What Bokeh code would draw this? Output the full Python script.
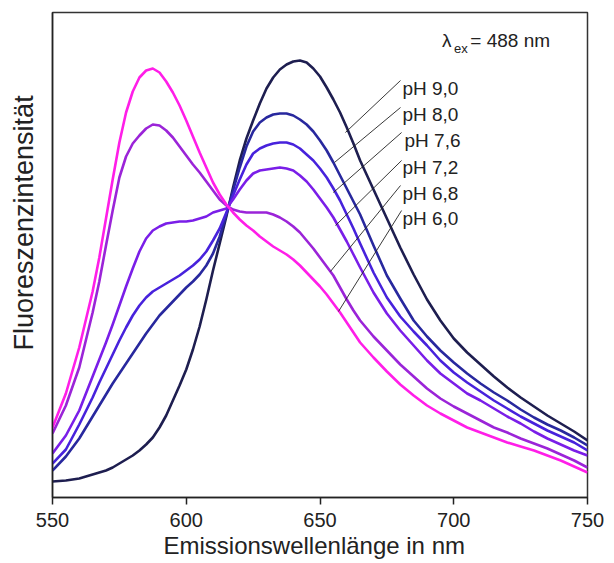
from bokeh.plotting import figure
from bokeh.models import Range1d, FixedTicker, Title
from bokeh.core.properties import value
from bokeh.embed import file_html
from bokeh.resources import INLINE

# ---- data (arbitrary intensity units) ----
wavelength = [550, 555, 560,
              565, 567.5, 570, 572.5, 575, 577.5, 580, 582.5, 585, 587.5,
              590, 592.5, 595, 597.5, 600, 602.5, 605, 607.5, 610, 612.5,
              615, 617.5, 620, 622.5, 625, 627.5, 630, 632.5, 635, 637.5,
              640, 642.5, 645, 647.5, 650, 652.5, 655, 657.5, 660, 662.5, 665,
              670, 675, 680, 685, 690, 695, 700, 705, 710, 715, 720,
              725, 730, 735, 740, 745, 750]

ph_labels = ["pH 9,0", "pH 8,0", "pH 7,6", "pH 7,2", "pH 6,8", "pH 6,0"]

ph90 = [16, 17, 19,
        23, 25, 27, 30, 34, 38, 42, 47, 53, 60,
        70, 82, 97, 112, 128, 148, 171, 198, 227, 254,
        281, 310, 337, 359, 377, 394, 409, 420, 428, 433,
        436, 437, 435, 429, 421, 410, 398, 385, 370, 354, 337,
        308, 279, 250, 223, 198, 177, 159, 145, 133, 121, 110,
        100, 91, 82, 74, 66, 57]
ph80 = [27, 41, 59,
        81, 92, 103, 114, 124, 134, 144, 154, 164, 173,
        182, 189, 196, 203, 210, 216, 223, 232, 244, 261,
        283, 307, 330, 351, 366, 375, 380, 383, 384, 384,
        382, 378, 373, 366, 357, 347, 335, 322, 309, 296, 283,
        252, 222, 199, 177, 161, 147, 135, 124, 114, 105, 97,
        88, 80, 73, 67, 60, 52]
ph76 = [34, 48, 73,
        100, 115, 129, 143, 157, 170, 182, 192, 200, 206,
        210, 214, 218, 222, 227, 232, 238, 246, 257, 269,
        285, 302, 318, 333, 344, 349, 352, 354, 355, 355,
        353, 349, 343, 337, 329, 320, 309, 297, 283, 269, 254,
        225, 200, 181, 166, 152, 137, 125, 115, 106, 97, 89,
        81, 74, 67, 61, 55, 47]
ph72 = [44, 62, 87,
        121, 138, 155, 173, 192, 211, 229, 246, 259, 267,
        271, 274, 275, 276, 276, 277, 279, 281, 285, 287,
        289, 298, 308, 317, 324, 327, 328, 329, 330, 329,
        327, 322, 316, 308, 299, 290, 280, 268, 256, 243, 230,
        205, 184, 167, 152, 137, 124, 114, 104, 97, 89, 81,
        74, 66, 59, 53, 47, 42]
ph68 = [64, 92, 130,
        185, 216, 252, 287, 320, 341, 354, 362, 369, 373,
        372, 367, 360, 351, 342, 333, 325, 316, 307, 298,
        292, 288, 286, 285, 285, 285, 285, 283, 280, 276,
        271, 265, 257, 249, 240, 231, 222, 210, 198, 187, 177,
        161, 147, 133, 121, 109, 99, 91, 84, 77, 70, 65,
        59, 54, 49, 43, 37, 30]
ph60 = [70, 104, 150,
        206, 240, 279, 318, 355, 385, 406, 420, 427, 429,
        425, 416, 405, 392, 377, 361, 345, 330, 315, 303,
        293, 285, 278, 272, 267, 261, 256, 251, 247, 243,
        238, 232, 225, 218, 211, 203, 194, 185, 175, 165, 155,
        140, 126, 113, 102, 92, 84, 77, 70, 65, 60, 55,
        51, 47, 42, 37, 31, 25]

series = [ph90, ph80, ph76, ph72, ph68, ph60]
colors = ["#1e1e50", "#28289e", "#4722dc", "#7a1ee8", "#9b24d8", "#ff1ee8"]

x_ticks = [550, 600, 650, 700, 750]

# annotation anchors (label text and leader lines)
label_x = [680.8, 680.8, 681.6, 680.8, 680.8, 680.8]
label_y = [409, 383, 357, 330, 304, 279]
lead_x0 = [680.1, 680.1, 680.5, 680.5, 680.1, 680.5]
lead_y0 = [417, 390, 365, 337, 312, 287]
lead_x1 = [659.5, 655.4, 655.0, 655.8, 653.9, 656.9]
lead_y1 = [365, 335, 305, 272, 226, 186]

FONT = "Liberation Sans"

p = figure(width=614, height=563,
           x_range=Range1d(550, 750), y_range=Range1d(0, 485),
           output_backend="svg", toolbar_location=None,
           min_border_left=52, min_border_right=27,
           min_border_top=12, min_border_bottom=66)
p.title.visible = False
p.xgrid.visible = False
p.ygrid.visible = False
p.background_fill_color = "white"
p.border_fill_color = "white"
p.outline_line_color = "#333333"
p.outline_line_width = 1.5

xa = p.xaxis[0]
xa.ticker = FixedTicker(ticks=x_ticks)
xa.major_tick_out = 7
xa.major_tick_in = 0
xa.minor_tick_line_color = None
xa.axis_line_width = 1.5
xa.axis_line_color = "#222222"
xa.major_tick_line_width = 1.5
xa.major_tick_line_color = "#222222"
xa.major_label_text_font = FONT
xa.major_label_text_font_size = "20px"
xa.major_label_text_color = "#222222"
xa.major_label_standoff = 8

ya = p.yaxis[0]
ya.ticker = FixedTicker(ticks=[])
ya.major_tick_out = 0
ya.major_tick_in = 0
ya.major_tick_line_color = None
ya.minor_tick_line_color = None
ya.axis_line_width = 1.5
ya.axis_line_color = "#222222"
ya.major_label_text_font_size = "1px"
ya.axis_label = " "
ya.axis_label_text_font_size = "10px"
ya.axis_label_standoff = 0

# axis titles, placed off-centre as in the reference
p.add_layout(Title(text="Emissionswellenlänge in nm", align="left", offset=111,
                   text_font=FONT, text_font_size="24px",
                   text_font_style="normal", text_color="#222222",
                   standoff=0), "below")
p.add_layout(Title(text="Fluoreszenzintensität", align="left", offset=147,
                   text_font=FONT, text_font_size="27px",
                   text_font_style="normal", text_color="#222222",
                   standoff=0), "left")

for ys, c in zip(series, colors):
    p.line(wavelength, ys, line_color=c, line_width=2.6, line_join="round")

p.segment(x0=lead_x0, y0=lead_y0, x1=lead_x1, y1=lead_y1,
          line_color="#222222", line_width=0.9)

p.text(x=label_x, y=label_y, text=ph_labels,
       text_font=value(FONT), text_font_size=value("19px"),
       text_baseline="alphabetic", text_align="left", text_color="#222222")

p.text(x=[695.6], y=[457], text=["λ"], text_font=value(FONT),
       text_font_size=value("19px"), text_baseline="alphabetic",
       text_color="#222222")
p.text(x=[700.1], y=[449], text=["ex"], text_font=value(FONT),
       text_font_size=value("13px"), text_baseline="alphabetic",
       text_color="#222222")
p.text(x=[706.2], y=[457], text=["= 488 nm"], text_font=value(FONT),
       text_font_size=value("19px"), text_baseline="alphabetic",
       text_color="#222222")

open("out.html", "w").write(file_html(p, INLINE))
